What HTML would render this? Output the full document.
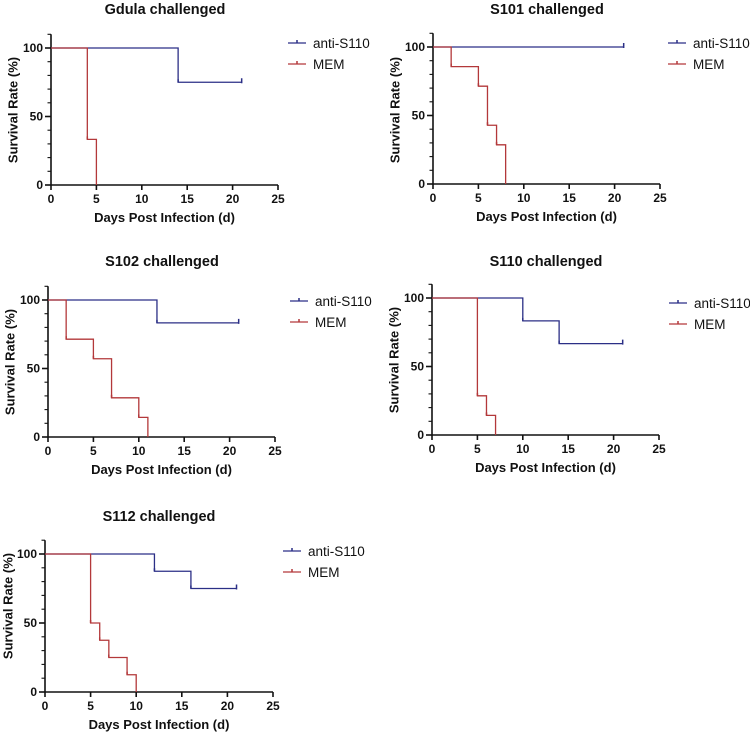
<!DOCTYPE html>
<html><head><meta charset="utf-8"><style>
body{margin:0;background:#fff;}
svg{display:block;font-family:"Liberation Sans",Arial,sans-serif;}
</style></head><body>
<svg id="fig" width="750" height="740" viewBox="0 0 750 740"></svg>
<script>
const titles=["Gdula challenged","S101 challenged","S102 challenged","S110 challenged","S112 challenged"];
const seriesNames=["anti-S110","MEM"];
const xTicks=[0,5,10,15,20,25];
const yTicks=[0,50,100];
const antiDays=[[14],[],[12],[10,14],[12,16]];
const antiVals=[[75],[],[83.3],[83.3,66.7],[87.5,75]];
const memDays=[[4,5],[2,5,6,7,8],[2,5,7,10,11],[5,6,7],[5,6,7,9,10]];
const memVals=[[33.3,0],[85.7,71.4,42.9,28.6,0],[71.4,57.1,28.6,14.3,0],[28.6,14.3,0],[50,37.5,25,12.5,0]];
const endDay=21;
const panels=[
 {x0:51,x1:278,y0:185,y1:48,tx:165,ty:14,lx:288,ly:43,yx:13,yc:110},
 {x0:433,x1:660,y0:184,y1:47,tx:547,ty:14,lx:668,ly:43,yx:395,yc:110},
 {x0:48,x1:275,y0:437,y1:300,tx:162,ty:266,lx:290,ly:301,yx:10,yc:362},
 {x0:432,x1:659,y0:435,y1:298,tx:546,ty:266,lx:669,ly:303,yx:394,yc:360},
 {x0:45,x1:273,y0:692,y1:554,tx:159,ty:521,lx:283,ly:551,yx:8,yc:606}
];
const colors=["#2b2f86","#b3383a"];
const NS="http://www.w3.org/2000/svg";
const svg=document.getElementById('fig');
function mk(tag,attrs,parent,text){const e=document.createElementNS(NS,tag);for(const k in attrs)e.setAttribute(k,attrs[k]);if(text!==undefined)e.textContent=text;parent.appendChild(e);return e;}
panels.forEach((p,i)=>{
 const g=mk('g',{},svg);
 
 
 const sx=d=>p.x0+(p.x1-p.x0)*d/25;
 const sy=v=>p.y0-(p.y0-p.y1)*v/100;
 const t=mk('text',{x:p.tx,y:p.ty,'text-anchor':'middle','font-size':14.5,'font-weight':'bold',fill:'#111'},g,titles[i]);
 
 
 const ax=mk('g',{stroke:'#111','stroke-width':1.6},g);
 
 
 mk('line',{x1:p.x0,y1:p.y0,x2:p.x1,y2:p.y0},ax);
 mk('line',{x1:p.x0,y1:p.y0,x2:p.x0,y2:sy(110)},ax);
 for(let v=0;v<=110;v+=10){const maj=yTicks.includes(v);mk('line',{x1:p.x0-(maj?6:3.5),y1:sy(v),x2:p.x0,y2:sy(v),'stroke-width':maj?1.6:1.1},ax);}
 xTicks.forEach(d=>{mk('line',{x1:sx(d),y1:p.y0,x2:sx(d),y2:p.y0+5},ax);
  const l=mk('text',{x:sx(d),y:p.y0+18,'text-anchor':'middle','font-size':12,'font-weight':'bold',fill:'#111',stroke:'none'},g,String(d));
  
  });
 yTicks.forEach(v=>{const l=mk('text',{x:p.x0-8,y:sy(v)+4,'text-anchor':'end','font-size':12,'font-weight':'bold',fill:'#111'},g,String(v));
  
  });
 const xt=mk('text',{x:(p.x0+p.x1)/2,y:p.y0+37,'text-anchor':'middle','font-size':13,'font-weight':'bold',fill:'#111'},g,'Days Post Infection (d)');
 
 
 const yt=mk('text',{x:p.yx,y:p.yc,'text-anchor':'middle','dominant-baseline':'central','font-size':13,'font-weight':'bold',fill:'#111',transform:`rotate(-90 ${p.yx} ${p.yc})`},g,'Survival Rate (%)');
 
 
 function curve(days,vals,end,color,name){
  let d=`M${sx(0)},${sy(100)}`;let cur=100;
  days.forEach((x,k)=>{d+=` H${sx(x)} V${sy(vals[k])}`;cur=vals[k];});
  if(end!==null)d+=` H${sx(end)}`;
  const pth=mk('path',{d:d,fill:'none',stroke:color,'stroke-width':1.3},g);
  
  
  days.forEach((x,k)=>{if(vals[k]>0)mk('line',{x1:sx(x),y1:sy(vals[k]),x2:sx(x),y2:sy(vals[k])-3,stroke:color,'stroke-width':1.5},g);});
  if(end!==null)mk('line',{x1:sx(end),y1:sy(cur)+1,x2:sx(end),y2:sy(cur)-4,stroke:color,'stroke-width':1.5},g);
 }
 curve(antiDays[i],antiVals[i],endDay,colors[0],'anti-s110');
 curve(memDays[i],memVals[i],null,colors[1],'mem');
 seriesNames.forEach((n,k)=>{
  const lg=mk('g',{},g);
  
  
  const y=p.ly+k*21;
  mk('line',{x1:p.lx,y1:y,x2:p.lx+18,y2:y,stroke:colors[k],'stroke-width':1.3},lg);
  mk('line',{x1:p.lx+9,y1:y,x2:p.lx+9,y2:y-3,stroke:colors[k],'stroke-width':1.5},lg);
  mk('text',{x:p.lx+25,y:y+5,'font-size':13.5,fill:'#111'},lg,n);
 });
});
</script>
</body></html>
